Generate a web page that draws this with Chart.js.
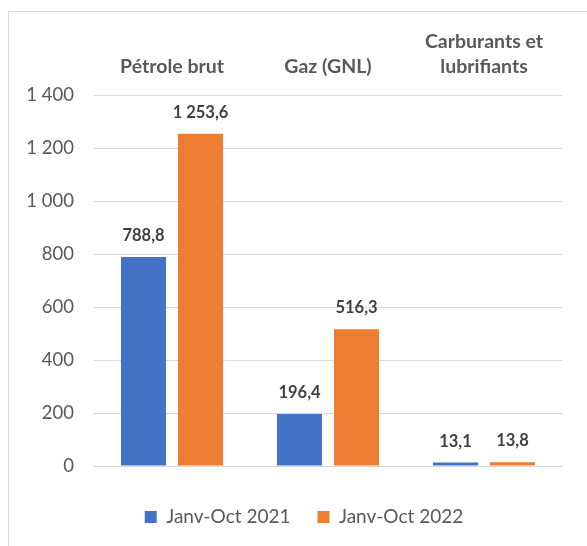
<!DOCTYPE html>
<html>
<head>
<meta charset="utf-8">
<script src="https://cdn.jsdelivr.net/npm/chart.js@4"></script>
<style>
    body { margin: 0; background: #fff; }
    #frame { position: absolute; left: 8px; top: 11px; width: 620px; height: 600px; border: 1px solid #d9d9d9; }
    #wrap { position: absolute; left: 0; top: 0; width: 587px; height: 546px; }
</style>
</head>
<body>
<div id="frame"></div>
<div id="wrap"><canvas id="exportChart" width="587" height="546"></canvas></div>
<script>
const categories = ["Pétrole brut", "Gaz (GNL)", ["Carburants et", "lubrifiants"]];
const series2021 = [788.8, 196.4, 13.1];
const series2022 = [1253.6, 516.3, 13.8];
const seriesNames = ["Janv-Oct 2021", "Janv-Oct 2022"];
const yTicks = [0, 200, 400, 600, 800, 1000, 1200, 1400];

const FONT = "Lato, 'Open Sans', sans-serif";

function frNumber(v, decimals) {
    const parts = v.toFixed(decimals).split(".");
    const intPart = parts[0].replace(/\B(?=(\d{3})+(?!\d))/g, " ");
    return parts.length > 1 ? intPart + "," + parts[1] : intPart;
}

// draws the value above each bar
const barLabels = {
    id: "barLabels",
    afterDatasetsDraw(chart) {
        const ctx = chart.ctx;
        ctx.save();
        ctx.font = "bold 16.5px " + FONT;
        ctx.fillStyle = "#404040";
        ctx.textAlign = "center";
        ctx.textBaseline = "alphabetic";
        chart.data.datasets.forEach((ds, i) => {
            const meta = chart.getDatasetMeta(i);
            meta.data.forEach((bar, j) => {
                ctx.fillText(frNumber(ds.data[j], 1), bar.x, bar.y - 16);
            });
        });
        ctx.restore();
    }
};

// fixed legend height, and legend centred a bit left of the plot like the original
const legendBox = {
    id: "legendBox",
    beforeLayout(chart) {
        const lg = chart.legend;
        if (lg && !lg._fixed) {
            const fit = lg.fit.bind(lg);
            lg.fit = function () { fit(); this.height = 80; };
            lg._fixed = true;
        }
    },
    afterLayout(chart) {
        chart.legend.left = 46;
        chart.legend.right = 562;
    }
};

const ctx = document.getElementById("exportChart").getContext("2d");
new Chart(ctx, {
    type: "bar",
    data: {
        labels: categories,
        datasets: [{
            label: seriesNames[0],
            data: series2021,
            backgroundColor: "#4472C4"
        }, {
            label: seriesNames[1],
            data: series2022,
            backgroundColor: "#ED7D31"
        }]
    },
    options: {
        responsive: false,
        animation: false,
        categoryPercentage: 0.731,
        barPercentage: 0.79,
        layout: {
            padding: { left: 10, right: 25, top: 0, bottom: 0 }
        },
        plugins: {
            legend: {
                position: "bottom",
                title: {
                    display: true,
                    text: "",
                    font: { size: 12, lineHeight: 1 },
                    padding: { top: 0, bottom: 2.5 }
                },
                labels: {
                    boxWidth: 12,
                    boxHeight: 12,
                    padding: 27,
                    color: "#595959",
                    font: { family: FONT, size: 19 }
                }
            },
            tooltip: { enabled: false }
        },
        scales: {
            x: {
                position: "top",
                afterFit: (scale) => { scale.height = 95; },
                grid: { display: false },
                border: { display: false },
                ticks: {
                    color: "#595959",
                    padding: 8,
                    font: { family: FONT, size: 19.5, weight: "bold", lineHeight: 1.28 }
                }
            },
            y: {
                min: 0,
                max: 1400,
                afterBuildTicks: (scale) => { scale.ticks = yTicks.map(v => ({ value: v })); },
                afterFit: (scale) => { scale.width = 84; },
                grid: { color: "#d9d9d9", drawTicks: false },
                border: { display: false },
                ticks: {
                    color: "#595959",
                    padding: 20,
                    font: { family: FONT, size: 18.5 },
                    callback: (v) => frNumber(v, 0)
                }
            }
        }
    },
    plugins: [barLabels, legendBox]
});
</script>
</body>
</html>
